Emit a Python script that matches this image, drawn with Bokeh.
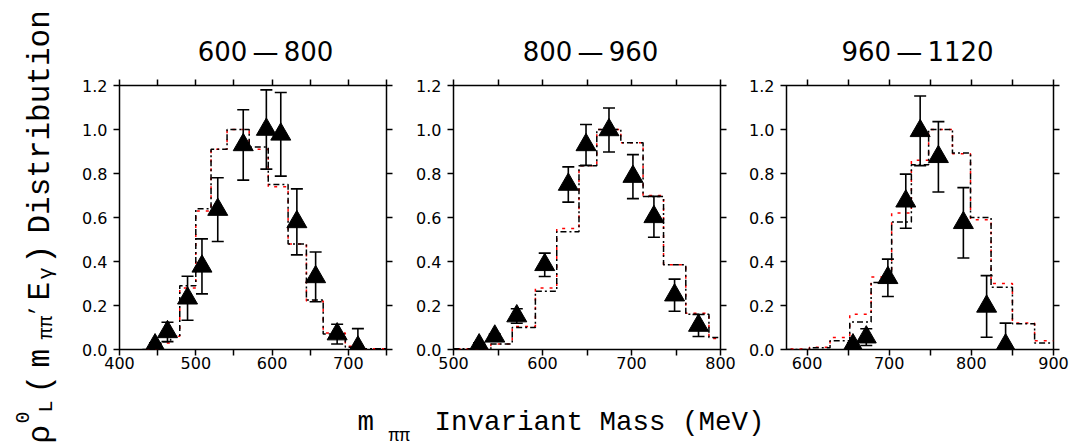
import math
from bokeh.plotting import figure
from bokeh.layouts import row, column
from bokeh.models import (Range1d, FixedTicker, LinearAxis, CustomJSTickFormatter,
                          PrintfTickFormatter, Label)
from bokeh.embed import file_html
from bokeh.resources import INLINE

# ---------------- data ----------------
titles = ["600\u2009\u2014\u2009800", "800\u2009\u2014\u2009960", "960\u2009\u2014\u20091120"]
x_ranges = [(400, 750), (500, 800), (575, 900)]
x_major = [[400, 500, 600, 700], [500, 600, 700, 800], [600, 700, 800, 900]]
x_minor = [[450, 550, 650, 750], [550, 650, 750], [650, 750, 850]]
y_ticks = [0.0, 0.2, 0.4, 0.6, 0.8, 1.0, 1.2]

# panel 1 (600-800)
x1 = [446.6, 462.9, 489.2, 508.1, 528.8, 562.2, 592.5, 611.4, 632.5, 657.1, 685.3, 712.5]
y1 = [0.02, 0.08, 0.233, 0.378, 0.636, 0.93, 1.0, 0.978, 0.58, 0.33, 0.07, 0.01]
e1 = [0.01, 0.044, 0.10, 0.125, 0.145, 0.16, 0.18, 0.19, 0.15, 0.113, 0.045, 0.085]
edges1 = [430, 454, 467, 479, 500, 520, 541, 570, 595, 621, 645, 667, 696, 720, 750]
h1_black = [0.0, 0.035, 0.06, 0.29, 0.64, 0.91, 1.0, 0.92, 0.75, 0.48, 0.225, 0.07, 0.01, 0.003]
h1_red = [0.0, 0.03, 0.06, 0.28, 0.63, 0.91, 1.0, 0.91, 0.74, 0.48, 0.22, 0.075, 0.015, 0.003]

# panel 2 (800-960)
x2 = [528.8, 546.4, 571.1, 602.5, 629.0, 648.9, 674.7, 701.6, 725.2, 748.4, 775.3]
y2 = [0.02, 0.06, 0.152, 0.385, 0.75, 0.93, 0.998, 0.786, 0.603, 0.247, 0.109]
e2 = [0.01, 0.01, 0.033, 0.053, 0.08, 0.093, 0.10, 0.10, 0.093, 0.073, 0.05]
edges2 = [500, 518, 542, 566, 592, 616, 641, 661, 688, 713, 736, 761, 787, 800]
h2_black = [0.003, 0.003, 0.025, 0.10, 0.265, 0.535, 0.835, 1.0, 0.94, 0.695, 0.385, 0.16, 0.055]
h2_red = [0.003, 0.003, 0.025, 0.105, 0.28, 0.55, 0.835, 1.0, 0.94, 0.70, 0.385, 0.165, 0.05]

# panel 3 (960-1120)
x3 = [655.9, 672.1, 698.4, 720.2, 737.7, 759.9, 790.3, 818.6, 841.7]
y3 = [0.02, 0.056, 0.326, 0.674, 0.994, 0.876, 0.576, 0.196, 0.02]
e3 = [0.01, 0.038, 0.085, 0.123, 0.158, 0.16, 0.16, 0.14, 0.10]
edges3 = [575, 603, 628, 652, 678, 703, 727, 748, 777, 799, 824, 850, 877, 900]
h3_black = [0.0, 0.008, 0.04, 0.125, 0.305, 0.58, 0.84, 1.0, 0.893, 0.60, 0.283, 0.117, 0.03]
h3_red = [0.002, 0.01, 0.055, 0.16, 0.33, 0.62, 0.86, 1.0, 0.89, 0.59, 0.30, 0.12, 0.04]

panels = [
    (x1, y1, e1, edges1, h1_black, h1_red),
    (x2, y2, e2, edges2, h2_black, h2_red),
    (x3, y3, e3, edges3, h3_black, h3_red),
]

# ---------------- layout ----------------
fig_w = [351, 333, 334]
border_l = [59, 42, 42]
border_r = [25, 24, 25]
title_cx = [205, 530, 857]
ROW_H = 315


def style_axis(ax, labels=True, standoff=1):
    ax.axis_line_color = None
    ax.major_tick_out = 6
    ax.major_tick_in = 0
    ax.minor_tick_out = 6
    ax.minor_tick_in = 0
    ax.major_tick_line_width = 1.5
    ax.minor_tick_line_width = 1.5
    ax.major_tick_line_color = "black"
    ax.minor_tick_line_color = "black"
    ax.major_label_text_font = "DejaVu Sans"
    ax.major_label_text_font_size = "16px"
    ax.major_label_text_color = "black"
    ax.major_label_standoff = standoff
    if not labels:
        ax.formatter = CustomJSTickFormatter(code="return ''")
        ax.major_label_standoff = 0


figs = []
for i, (xs, ys, es, edges, hb, hr) in enumerate(panels):
    p = figure(width=fig_w[i], height=ROW_H, x_range=Range1d(*x_ranges[i]),
               y_range=Range1d(0, 1.2), output_backend="svg", toolbar_location=None,
               min_border_left=border_l[i], min_border_right=border_r[i],
               min_border_top=15, min_border_bottom=36)
    p.grid.visible = False
    p.outline_line_color = "black"
    p.outline_line_width = 1.5
    p.background_fill_color = "white"
    p.border_fill_color = "white"

    xt = FixedTicker(ticks=x_major[i], minor_ticks=x_minor[i])
    yt = FixedTicker(ticks=y_ticks)

    p.xaxis[0].ticker = xt
    style_axis(p.xaxis[0], True, standoff=1)
    p.yaxis[0].ticker = yt
    p.yaxis[0].formatter = PrintfTickFormatter(format="%.1f")
    style_axis(p.yaxis[0], True, standoff=6)

    top = LinearAxis(ticker=FixedTicker(ticks=x_major[i], minor_ticks=x_minor[i]))
    style_axis(top, False)
    p.add_layout(top, "above")
    right = LinearAxis(ticker=FixedTicker(ticks=y_ticks))
    style_axis(right, False)
    p.add_layout(right, "right")

    # histograms (red dotted under black dash-dot)
    p.step(x=edges, y=hr + [hr[-1]], mode="after", line_color="red",
           line_width=1.5, line_dash="3 6", line_dash_offset=5)
    p.step(x=edges, y=hb + [hb[-1]], mode="after", line_color="black",
           line_width=1.5, line_dash="6 3 2 3")

    # error bars
    lo = [y - e for y, e in zip(ys, es)]
    hi = [y + e for y, e in zip(ys, es)]
    p.segment(x0=xs, y0=lo, x1=xs, y1=hi, line_color="black", line_width=1.6)
    p.scatter(x=xs, y=hi, marker="dash", size=12, line_color="black", line_width=1.6)
    p.scatter(x=xs, y=lo, marker="dash", size=12, line_color="black", line_width=1.6)
    # data points
    p.scatter(x=xs, y=ys, marker="triangle", size=20, fill_color="black",
              line_color="black")
    figs.append(p)


def blank(w, h):
    b = figure(width=w, height=h, x_range=Range1d(0, w), y_range=Range1d(0, h),
               output_backend="svg", toolbar_location=None,
               x_axis_location=None, y_axis_location=None, min_border=0)
    b.grid.visible = False
    b.outline_line_color = None
    b.background_fill_color = "white"
    b.border_fill_color = "white"
    return b


# titles strip
tstrip = blank(1018, 70)
for t, cx in zip(titles, title_cx):
    tstrip.add_layout(Label(x=cx, y=19, text=t, text_align="center",
                            text_baseline="alphabetic", text_font="DejaVu Sans",
                            text_font_size="26px", text_color="black"))

# y label (rotated)
ylab = blank(60, 445)
MONO = "Liberation Mono"
ang = math.pi / 2
ylab_parts = [
    # (text, baseline x, start along text, font size)
    ("\u03c1", 40, 2, "31px"),
    ("0", 22, 22, "20px"),
    ("L", 46, 33, "20px"),
    ("(", 40, 52, "31px"),
    ("m", 40, 78, "31px"),
    ("\u03c0\u03c0", 46, 106, "20px"),
    (",", 24, 130, "20px"),
    ("E", 40, 145, "31px"),
    ("\u03b3", 46, 166, "20px"),
    (")", 40, 182, "31px"),
    ("Distribution", 40, 212, "31px"),
]
for t, bx, s, fs in ylab_parts:
    ylab.add_layout(Label(x=bx, y=s, text=t, angle=ang, text_align="left",
                          text_baseline="alphabetic", text_font=MONO,
                          text_font_size=fs, text_color="black"))

# x label
xlab = blank(1018, 60)
xlab_parts = [
    ("m", 297, 23, "27.5px"),
    ("\u03c0\u03c0", 328, 10, "18px"),
    ("Invariant Mass (MeV)", 374, 23, "27.5px"),
]
for t, x, y, fs in xlab_parts:
    xlab.add_layout(Label(x=x, y=y, text=t, text_align="left",
                          text_baseline="alphabetic", text_font=MONO,
                          text_font_size=fs, text_color="black"))

layout = row(ylab, column(tstrip, row(*figs), xlab))
open("out.html", "w").write(file_html(layout, INLINE))
